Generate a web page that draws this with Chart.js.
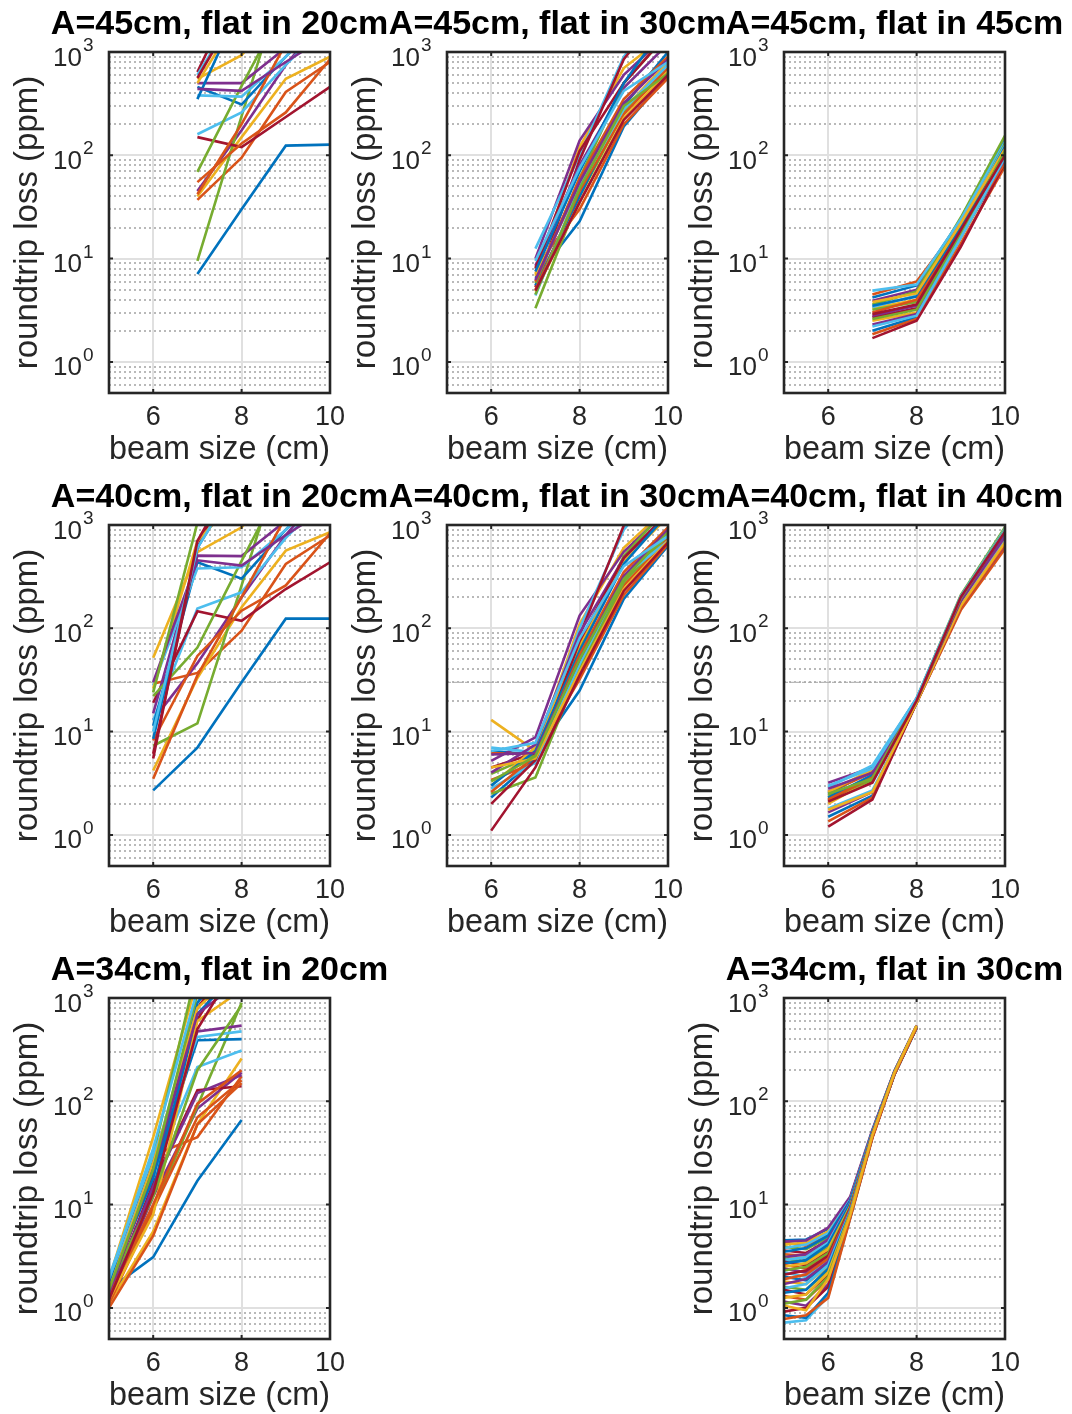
<!DOCTYPE html>
<html>
<head>
<meta charset="utf-8">
<script src="https://cdn.jsdelivr.net/npm/chart.js@4.4.1/dist/chart.umd.min.js"></script>
<style>
html, body { margin: 0; padding: 0; background: #fff; overflow: hidden; }
#fig { position: relative; width: 1072px; height: 1414px; overflow: hidden; }
#fig canvas { position: absolute; }
</style>
</head>
<body>
<div id="fig"></div>
<script>
// axis settings shared by all subplots
const xRange = [5, 10];
const yRange = [0.5, 1000];
const xTickValues = [6, 8, 10];
const yMajorTicks = [1, 10, 100, 1000];
const yMinorTicks = [0.5, 0.6, 0.7, 0.8, 0.9, 2, 3, 4, 5, 6, 7, 8, 9,
  20, 30, 40, 50, 60, 70, 80, 90, 200, 300, 400, 500, 600, 700, 800, 900];
const thresholdLoss = 30; // dashed reference line in the A=40cm row

// A=45cm, flat in 20cm
const beamX_A45_F20 = [7, 8, 9, 10];
const loss_A45_F20 = [
  [7.1, 30, 124, 127], [37, 95, 410, 800], [40, 150, 550, 900], [45, 175, 750, 2500],
  [9.5, 240, 6000, null], [160, 260, 750, 2000], [150, 120, 235, 460],
  [460, 310, 900, 2500], [55, 130, 260, 850], [550, 930, 3000, null], [500, 500, 1100, null],
  [69, 470, 3000, null], [380, 370, 900, 2500], [640, 5000, null, null],
  [350, 3000, null, null], [42, 200, 1200, null], [500, 2500, null, null], [440, 420, 800, 1500],
  [1200, 5000, null, null], [600, 3000, null, null], [560, 3000, null, null]
];

// A=45cm, flat in 30cm
const beamX_A45_F30 = [7, 8, 9, 10];
const loss_A45_F30 = [
  [6.5, 23, 190, 600], [8.2, 30, 200, 560], [7.1, 120, 700, 1500], [10, 139, 600, 1500],
  [3.3, 40, 260, 700], [12.5, 100, 900, 3000], [5.3, 90, 850, 3000],
  [5.5, 40, 300, 1000], [5.0, 45, 250, 700], [6.8, 50, 280, 800], [8.5, 80, 450, 1200],
  [5.8, 60, 500, 1500], [4.4, 50, 280, 750], [8.0, 110, 500, 1500],
  [7.5, 70, 500, 2000], [6.0, 60, 350, 900], [4.8, 35, 230, 650], [6.2, 55, 320, 850],
  [4.5, 48, 300, 620], [9.5, 75, 420, 800], [4.9, 35, 220, 600]
];

// A=45cm, flat in 45cm
const beamX_A45_F45 = [7, 8, 9, 10];
const loss_A45_F45 = [
  [4.2, 5.5, 24, 140], [4.5, 6.0, 22, 110], [3.3, 4.0, 21, 105], [3.9, 5.0, 22, 118],
  [3.6, 4.8, 25, 155], [4.9, 5.6, 24, 135], [2.7, 3.3, 17, 120],
  [2.0, 2.7, 16, 90], [1.85, 2.6, 14, 78], [2.5, 3.0, 16, 95], [2.3, 2.9, 17, 100],
  [3.2, 3.8, 20, 130], [3.4, 4.4, 21, 125], [1.7, 2.5, 13, 85],
  [3.5, 4.3, 20, 120], [3.0, 4.0, 18, 85], [3.8, 4.6, 22, 115], [2.8, 3.5, 18, 92],
  [2.6, 3.2, 17, 110], [2.2, 2.8, 16, 95], [2.9, 3.6, 19, 100]
];

// A=40cm, flat in 20cm
const beamX_A40_F20 = [6, 7, 8, 9, 10];
const loss_A40_F20 = [
  [2.7, 7.0, 30, 124, 124], [29, 37, 95, 420, 790], [4.2, 33, 160, 565, 850], [13, 46, 200, 800, 2500],
  [7.3, 12, 260, 6000, null], [12.8, 155, 223, 750, 2000], [19, 146, 118, 240, 436],
  [11.4, 436, 302, 900, 2500], [8.2, 54, 148, 260, 830], [52, 545, 950, 3000, null], [15, 505, 500, 1100, null],
  [22, 65, 450, 3000, null], [28, 380, 390, 900, 2500], [6.1, 600, 5000, null, null],
  [8.5, 600, 3000, null, null], [3.5, 35, 200, 1200, null], [26, 700, 2000, null, null], [30, 455, 405, 800, 1500],
  [24, 1050, null, null, null], [10, 600, 3000, null, null], [5.5, 700, 4000, null, null]
];

// A=40cm, flat in 30cm
const beamX_A40_F30 = [6, 7, 8, 9, 10];
const loss_A40_F30 = [
  [6.5, 6.0, 25, 192, 630], [6.2, 6.0, 32, 210, 650], [13, 6.5, 110, 600, 1500], [5.2, 8.8, 133, 550, 1400],
  [3.9, 6.0, 65, 500, 1500], [7.0, 6.3, 100, 900, 3000], [4.5, 6.2, 85, 990, 3000],
  [2.3, 5.5, 45, 300, 900], [3.4, 5.0, 40, 260, 750], [3.0, 7.0, 70, 450, 1200], [4.0, 7.5, 90, 480, 1300],
  [2.5, 3.6, 40, 280, 800], [2.8, 5.0, 45, 320, 700], [2.0, 5.3, 75, 480, 1300],
  [3.0, 6.5, 60, 420, 1300], [2.6, 5.8, 55, 350, 950], [4.5, 5.5, 38, 240, 700], [6.0, 6.2, 50, 320, 900],
  [3.3, 5.8, 50, 300, 850], [6.5, 7.8, 80, 400, 780], [1.1, 4.5, 35, 230, 680]
];

// A=40cm, flat in 40cm
const beamX_A40_F40 = [6, 7, 8, 9, 10];
const loss_A40_F40 = [
  [2.5, 4.2, 20, 200, 850], [2.6, 4.0, 19, 150, 590], [2.6, 4.3, 20, 170, 700], [3.2, 4.5, 21, 180, 750],
  [2.4, 3.6, 21, 210, 950], [2.9, 4.7, 21, 205, 920], [2.15, 3.3, 20, 190, 820],
  [1.5, 2.4, 19, 180, 750], [1.35, 2.3, 19, 155, 620], [2.0, 3.5, 20, 175, 720], [1.65, 2.6, 19, 160, 640],
  [2.3, 3.4, 20, 200, 900], [1.8, 2.7, 19, 170, 700], [1.2, 2.2, 19, 185, 800],
  [2.3, 3.8, 20, 190, 800], [2.2, 3.6, 19, 160, 650], [1.75, 2.6, 19, 165, 680], [2.8, 4.0, 20, 185, 770],
  [2.5, 3.5, 20, 195, 880], [3.0, 4.4, 21, 200, 880], [2.1, 3.2, 20, 200, 860]
];

// A=34cm, flat in 20cm
const beamX_A34_F20 = [5, 6, 7, 8];
const loss_A34_F20 = [
  [1.5, 3.1, 17, 66], [1.2, 30, 45, 175], [1.1, 5.5, 60, 260], [1.2, 12, 85, 190],
  [1.4, 9, 90, 900], [1.8, 20, 215, 310], [1.3, 16, 128, 140],
  [1.6, 20, 390, 400], [1.1, 9, 70, 160], [1.9, 45, 1500, null], [1.6, 20, 475, 540],
  [1.8, 30, 2000, null], [2.0, 30, 420, 475], [1.7, 25, 620, 3000],
  [1.4, 14, 700, 2000], [1.0, 5, 60, 150], [1.2, 8, 600, 1200], [1.3, 15, 120, 180],
  [1.6, 12, 200, 850], [1.7, 25, 900, 3000], [1.5, 20, 800, 3000],
  [1.7, 18, 900, 3000], [1.3, 10, 95, 200], [1.5, 25, 800, 2000], [1.4, 22, 700, 1500],
  [1.5, 22, 1100, null], [1.9, 35, 1200, null], [1.2, 13, 500, 2500]
];

// A=34cm, flat in 30cm
const beamX_A34_F30 = [5, 5.5, 6, 6.5, 7, 7.5, 8];
const loss_A34_F30 = [
  [4.5, 4.6, 5.8, 11.5, 52, 195, 535], [4.3, 4.0, 5.2, 11, 51, 192, 530],
  [4.1, 4.3, 5.5, 11.8, 52, 196, 540], [4.4, 4.5, 6.0, 12, 53, 198, 545],
  [3.9, 3.7, 4.8, 10.5, 50, 190, 528], [3.8, 4.1, 5.3, 11.2, 51, 193, 532],
  [3.6, 3.4, 4.5, 10.8, 50, 191, 530], [3.5, 3.8, 5.0, 11, 51, 194, 536],
  [3.3, 3.2, 4.2, 10.2, 49, 189, 525], [3.2, 3.0, 4.0, 10, 49, 190, 528],
  [3.1, 3.3, 4.6, 10.6, 50, 192, 533], [3.0, 2.8, 3.8, 9.8, 49, 188, 524],
  [2.9, 3.1, 4.3, 10.4, 50, 191, 530], [2.8, 2.6, 3.5, 9.6, 48, 187, 522],
  [2.7, 2.9, 4.1, 10.3, 50, 192, 531], [2.6, 2.4, 3.3, 9.4, 48, 188, 525],
  [2.5, 2.7, 3.7, 9.7, 49, 190, 529], [2.4, 2.2, 3.1, 9.2, 48, 187, 523],
  [2.3, 2.5, 3.4, 9.5, 49, 189, 527], [2.2, 2.0, 2.9, 9.0, 47, 186, 520],
  [2.1, 2.3, 3.2, 9.3, 48, 189, 526], [2.0, 1.85, 2.7, 8.8, 47, 186, 521],
  [1.9, 2.1, 3.0, 9.1, 48, 188, 525], [1.8, 1.7, 2.5, 8.6, 47, 185, 520],
  [1.7, 1.9, 2.8, 8.9, 48, 187, 524], [1.6, 1.5, 2.3, 8.4, 46, 185, 518],
  [1.55, 1.7, 2.6, 8.7, 47, 186, 522], [1.5, 1.35, 2.1, 8.2, 46, 184, 518],
  [1.4, 1.5, 2.4, 8.5, 47, 186, 521], [1.3, 1.2, 1.9, 8.0, 46, 184, 517],
  [1.25, 1.35, 2.2, 8.3, 46, 185, 520], [1.15, 1.05, 1.7, 7.8, 45, 183, 516],
  [1.1, 1.2, 2.0, 8.1, 46, 184, 519], [0.72, 0.76, 1.3, 7.5, 45, 183, 515],
  [0.92, 1.0, 1.6, 7.7, 45, 183, 517], [0.85, 0.8, 1.4, 7.5, 45, 182, 514],
  [0.78, 0.85, 1.25, 7.4, 44, 182, 515], [1.05, 0.95, 1.9, 8, 47, 190, 540]
];

// MATLAB default colour order
const lineColors = ['#0072BD', '#D95319', '#EDB120', '#7E2F8E', '#77AC30', '#4DBEEE', '#A2142F'];
const AXIS_COLOR = '#262626';
const FONT = '"Liberation Sans", Arial, Helvetica, sans-serif';
Chart.defaults.font.family = FONT;

// layout of the 3x3 grid (bottom-middle is empty)
const colLeft = [1, 339, 676];
const rowTop = [0, 473, 946];
const AXIS_W = 108, PLOT_W = 221, PLOT_H = 341, TITLE_H = 52, XAXIS_H = 78;

const panels = [
  {title: 'A=45cm, flat in 20cm', col: 0, row: 0, xs: beamX_A45_F20, series: loss_A45_F20},
  {title: 'A=45cm, flat in 30cm', col: 1, row: 0, xs: beamX_A45_F30, series: loss_A45_F30},
  {title: 'A=45cm, flat in 45cm', col: 2, row: 0, xs: beamX_A45_F45, series: loss_A45_F45},
  {title: 'A=40cm, flat in 20cm', col: 0, row: 1, xs: beamX_A40_F20, series: loss_A40_F20, threshold: true},
  {title: 'A=40cm, flat in 30cm', col: 1, row: 1, xs: beamX_A40_F30, series: loss_A40_F30, threshold: true},
  {title: 'A=40cm, flat in 40cm', col: 2, row: 1, xs: beamX_A40_F40, series: loss_A40_F40, threshold: true},
  {title: 'A=34cm, flat in 20cm', col: 0, row: 2, xs: beamX_A34_F20, series: loss_A34_F20},
  {title: 'A=34cm, flat in 30cm', col: 2, row: 2, xs: beamX_A34_F30, series: loss_A34_F30}
];

// box, inward ticks, 10^n labels and subplot title, MATLAB style
const matlabAxes = {
  id: 'matlabAxes',
  afterDraw(chart, args, opts) {
    const {ctx, chartArea: a} = chart;
    const xs = chart.scales.x, ys = chart.scales.y;
    ctx.save();
    ctx.strokeStyle = AXIS_COLOR;
    ctx.lineWidth = 2;
    ctx.beginPath();
    xTickValues.forEach(v => {
      const px = xs.getPixelForValue(v);
      ctx.moveTo(px, a.bottom); ctx.lineTo(px, a.bottom - 4);
      ctx.moveTo(px, a.top); ctx.lineTo(px, a.top + 4);
    });
    yMajorTicks.forEach(v => {
      const py = ys.getPixelForValue(v);
      ctx.moveTo(a.left, py); ctx.lineTo(a.left + 4, py);
      ctx.moveTo(a.right, py); ctx.lineTo(a.right - 4, py);
    });
    ctx.stroke();
    ctx.lineWidth = 2.6;
    ctx.strokeRect(a.left, a.top, a.right - a.left, a.bottom - a.top);

    // y tick labels with superscript exponent
    ctx.fillStyle = AXIS_COLOR;
    ctx.textBaseline = 'alphabetic';
    yMajorTicks.forEach(v => {
      const py = ys.getPixelForValue(v);
      ctx.font = '26px ' + FONT;
      ctx.textAlign = 'right';
      ctx.fillText('10', a.left - 27, py + 13.5);
      ctx.font = '19px ' + FONT;
      ctx.textAlign = 'left';
      ctx.fillText(String(Math.round(Math.log10(v))), a.left - 26, py - 1);
    });

    // title centred over the axes
    ctx.fillStyle = '#000';
    ctx.font = 'bold 34px ' + FONT;
    ctx.textAlign = 'center';
    ctx.fillText(opts.text, (a.left + a.right) / 2, a.top - 18);
    ctx.restore();
  }
};

const fig = document.getElementById('fig');

panels.forEach(p => {
  const canvas = document.createElement('canvas');
  canvas.width = AXIS_W + PLOT_W + AXIS_W;
  canvas.height = TITLE_H + PLOT_H + XAXIS_H;
  canvas.style.left = colLeft[p.col] + 'px';
  canvas.style.top = rowTop[p.row] + 'px';
  fig.appendChild(canvas);

  const n = p.series.length;
  const datasets = p.series.map((vals, i) => ({
    data: vals.map((v, k) => ({x: p.xs[k], y: v})),
    borderColor: lineColors[i % lineColors.length],
    borderWidth: 2.6,
    pointRadius: 0,
    tension: 0,
    fill: false,
    order: n - i // later series on top, like MATLAB
  }));
  if (p.threshold) {
    datasets.push({
      data: [{x: xRange[0], y: thresholdLoss}, {x: xRange[1], y: thresholdLoss}],
      borderColor: '#a8a8a8',
      borderWidth: 1,
      borderDash: [4, 2],
      pointRadius: 0,
      order: n + 1
    });
  }

  new Chart(canvas, {
    type: 'line',
    data: {datasets},
    plugins: [matlabAxes],
    options: {
      responsive: false,
      animation: false,
      events: [],
      devicePixelRatio: 1,
      layout: {padding: {top: TITLE_H, right: AXIS_W, bottom: 0, left: 0}},
      plugins: {
        legend: {display: false},
        tooltip: {enabled: false},
        title: {display: false},
        matlabAxes: {text: p.title}
      },
      scales: {
        x: {
          type: 'linear', min: xRange[0], max: xRange[1], bounds: 'data',
          afterBuildTicks: s => { s.ticks = xTickValues.map(v => ({value: v})); },
          afterFit: s => { s.height = XAXIS_H; },
          grid: {color: '#e0e0e0', lineWidth: 2, drawTicks: false},
          border: {display: false},
          ticks: {color: AXIS_COLOR, font: {size: 27}, padding: 8, maxRotation: 0, autoSkip: false},
          title: {display: true, text: 'beam size (cm)', color: AXIS_COLOR, font: {size: 34},
                  padding: {top: 0, bottom: 1}}
        },
        y: {
          type: 'logarithmic', min: yRange[0], max: yRange[1], bounds: 'data', position: 'left',
          afterBuildTicks: s => { s.ticks = yMajorTicks.map(v => ({value: v, major: true})); },
          afterFit: s => { s.width = AXIS_W; },
          grid: {color: '#e0e0e0', lineWidth: 2, drawTicks: false},
          border: {display: false},
          ticks: {display: false},
          title: {display: true, text: 'roundtrip loss (ppm)', color: AXIS_COLOR, font: {size: 33},
                  padding: {top: 7, bottom: 0}}
        },
        yMinor: {
          type: 'logarithmic', min: yRange[0], max: yRange[1], bounds: 'data', position: 'left',
          afterBuildTicks: s => { s.ticks = yMinorTicks.map(v => ({value: v})); },
          afterFit: s => { s.width = 0; },
          grid: {color: '#b9b9b9', lineWidth: 2, drawTicks: false},
          border: {display: false, dash: [2, 3]},
          ticks: {display: false}
        }
      }
    }
  });
});
</script>
</body>
</html>
